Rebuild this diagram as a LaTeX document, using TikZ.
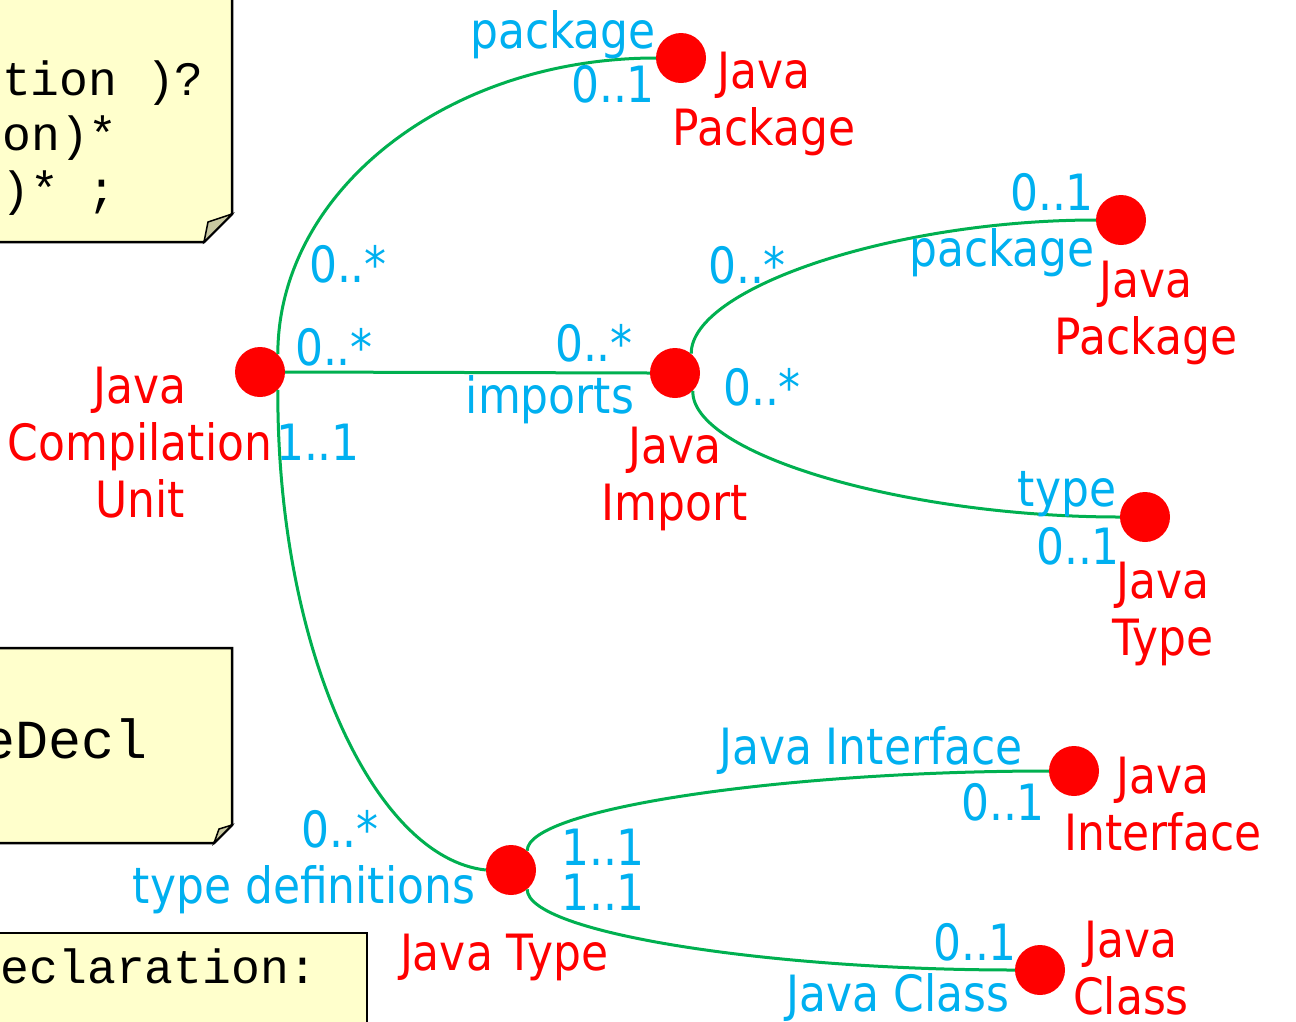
\documentclass[tikz,border=0pt]{standalone}
\usepackage{fontspec}
\setmainfont[FakeStretch=0.88]{DejaVu Sans}
\setmonofont{Liberation Mono}
\definecolor{dotred}{HTML}{FF0000}
\definecolor{linegreen}{HTML}{00B050}
\definecolor{roleblue}{HTML}{00B0F0}
\definecolor{noteyellow}{HTML}{FFFFCC}
\definecolor{foldgray}{HTML}{C8C8A0}
\newcommand\myrolefont{\fontsize{50}{57}\selectfont}
\newcommand\mycodefont{\fontsize{48}{56}\selectfont\ttfamily}
\newcommand\mybigcodefont{\fontsize{55}{60}\selectfont\ttfamily}
\begin{document}
\begin{tikzpicture}[x=1pt,y=-1pt,
  dot/.style={circle,fill=dotred,minimum size=50pt,inner sep=0pt},
  rel/.style={draw=linegreen,line width=3pt},
  role/.style={text=roleblue,font=\myrolefont,inner sep=0pt,anchor=base},
  cls/.style={text=dotred,font=\myrolefont,inner sep=0pt,align=center},
  note/.style={draw=black,line width=2.5pt,fill=noteyellow,line join=miter},
  fold/.style={draw=black,line width=1.5pt,fill=foldgray},
  code/.style={font=\mycodefont,inner sep=0pt,anchor=base east}]
\useasboundingbox (0,0) rectangle (1296,1021);
\clip (0,0) rectangle (1296,1021);
\fill[white] (0,0) rectangle (1296,1021);

% notes
\draw[note] (-20,-20) -- (232,-20) -- (232,214) -- (204,242) -- (-20,242) -- cycle;
\draw[fold] (204,242) -- (232,214) -- (208,222) -- cycle;
\draw[note] (-20,648) -- (232,648) -- (232,825) -- (214,843) -- (-20,843) -- cycle;
\draw[fold] (214,843) -- (232,825) -- (219,829) -- cycle;
\draw[note] (-20,933) rectangle (367,1060);

\node[code] (c1) at (204,95) {tion )?};
\node[code] (c2) at (118,150) {on)*};
\node[code] (c3) at (117,205) {)* ;};
\node[code,font=\mybigcodefont] (c4) at (148,758) {eDecl};
\node[code] (c5) at (318,983) {eclaration:};

% class dots
\node[dot] (jcu) at (260,372) {};
\node[dot] (jp1) at (681,58) {};
\node[dot] (ji) at (675,373) {};
\node[dot] (jp2) at (1121,220) {};
\node[dot] (jt2) at (1145,517) {};
\node[dot] (jt) at (511,870) {};
\node[dot] (jint) at (1074,771) {};
\node[dot] (jcls) at (1040,970) {};

% relations
\draw[rel] (jcu.45) .. controls (278,191) and (447,58) .. (jp1.west);
\draw[rel] (jcu.east) -- (ji.west);
\draw[rel] (jcu.-45) .. controls (277,651) and (375,858) .. (jt.west);
\draw[rel] (ji.50) .. controls (691,288) and (894,220) .. (jp2.west);
\draw[rel] (ji.-45) .. controls (691,454) and (905,517) .. (jt2.west);
\draw[rel] (jt.50) .. controls (527,808) and (788,771) .. (jint.west);
\draw[rel] (jt.-50) .. controls (527,933) and (771,970) .. (jcls.west);

% class names
\node[cls,anchor=north] (jp1l) at (764,52) {Java\\Package};
\node[cls,anchor=north] (jcul) at (140,367) {Java\\Compilation\\Unit};
\node[cls,anchor=north] (jil) at (675,427) {Java\\Import};
\node[cls,anchor=north] (jp2l) at (1146,261) {Java\\Package};
\node[cls,anchor=north] (jt2l) at (1163,562) {Java\\Type};
\node[cls,anchor=base] (jtl) at (504,970) {Java Type};
\node[cls,anchor=north] (jintl) at (1163,757) {Java\\Interface};
\node[cls,anchor=north] (jclsl) at (1131,921) {Java\\Class};

% role names and multiplicities
\node[role] (r1) at (563,48) {package};
\node[role] (r2) at (613,102) {0..1};
\node[role] (r3) at (348,282) {0..*};
\node[role] (r4) at (334,365) {0..*};
\node[role] (r5) at (318,460) {1..1};
\node[role] (r6) at (594,361) {0..*};
\node[role] (r7) at (550,413) {imports};
\node[role] (r8) at (747,283) {0..*};
\node[role] (r9) at (762,405) {0..*};
\node[role] (r10) at (1052,210) {0..1};
\node[role] (r11) at (1002,266) {package};
\node[role] (r12) at (1067,506) {type};
\node[role] (r13) at (1078,564) {0..1};
\node[role] (r14) at (340,847) {0..*};
\node[role] (r15) at (304,903) {type definitions};
\node[role] (r16) at (603,865) {1..1};
\node[role] (r17) at (603,910) {1..1};
\node[role] (r18) at (871,764) {Java Interface};
\node[role] (r19) at (1003,820) {0..1};
\node[role] (r20) at (975,960) {0..1};
\node[role] (r21) at (898,1011) {Java Class};
\end{tikzpicture}
\end{document}
